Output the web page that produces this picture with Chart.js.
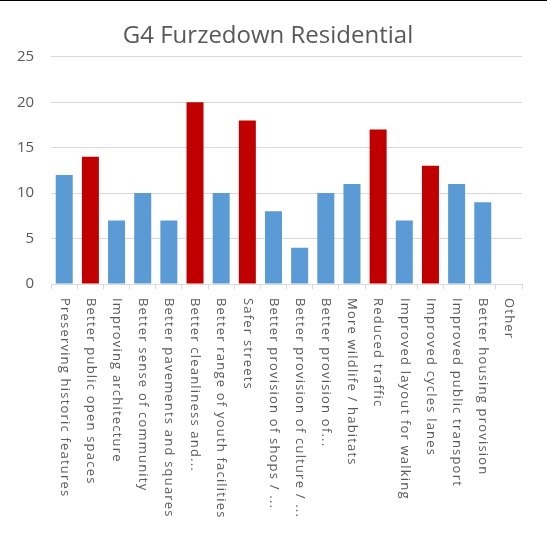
<!DOCTYPE html>
<html>
<head>
<meta charset="utf-8">
<script src="https://cdn.jsdelivr.net/npm/chart.js@4/dist/chart.umd.min.js"></script>
<style>
  html, body { margin: 0; padding: 0; background: #fff; }
  #wrap { width: 547px; height: 540px; border-top: 1px solid #000; position: relative; }
</style>
</head>
<body>
<div id="wrap"><canvas id="chart"></canvas></div>
<script>
// survey answers, G4 Furzedown Residential
const categories = [
    'Preserving historic features',
    'Better public open spaces',
    'Improving architecture',
    'Better sense of community',
    'Better pavements and squares',
    'Better cleanliness and...',
    'Better range of youth facilities',
    'Safer streets',
    'Better provision of shops / ...',
    'Better provision of culture / ...',
    'Better provision of...',
    'More wildlife / habitats',
    'Reduced traffic',
    'Improved layout for walking',
    'Improved cycles lanes',
    'Improved public transport',
    'Better housing provision',
    'Other'
];
const votes = [12, 14, 7, 10, 7, 20, 10, 18, 8, 4, 10, 11, 17, 7, 13, 11, 9, 0];
// top priorities are shown in red
const highlighted = [1, 5, 7, 12, 14];
const yTicks = [0, 5, 10, 15, 20, 25];

const BLUE = '#5b9bd5', RED = '#c00000', TEXT = '#595959', GRID = '#d9d9d9';

let barColors = votes.map((v, i) => highlighted.includes(i) ? RED : BLUE);

// category names run downwards, top to bottom
const downLabels = {
    id: 'downLabels',
    afterLayout(chart) {
        // centre the title over the plot rather than the whole canvas
        chart.titleBlock.left += 7;
        chart.titleBlock.right += 7;
    },
    afterDraw(chart) {
        let ctx = chart.ctx, x = chart.scales.x, top = chart.chartArea.bottom + 14;
        ctx.save();
        ctx.font = '13px "Open Sans"';
        ctx.letterSpacing = '1.2px';
        ctx.fillStyle = TEXT;
        ctx.textAlign = 'left';
        ctx.textBaseline = 'middle';
        chart.data.labels.forEach((label, i) => {
            ctx.save();
            ctx.translate(x.getPixelForValue(i), top);
            ctx.rotate(Math.PI / 2);
            ctx.fillText(label, 0, 0);
            ctx.restore();
        });
        ctx.restore();
    }
};

new Chart(document.getElementById('chart'), {
    type: 'bar',
    data: {
        labels: categories,
        datasets: [{
            data: votes,
            backgroundColor: barColors,
            categoryPercentage: 1,
            barPercentage: 0.65
        }]
    },
    options: {
        responsive: true,
        maintainAspectRatio: false,
        animation: false,
        layout: { padding: { top: 21, left: 0, right: 25, bottom: 252 } },
        plugins: {
            legend: { display: false },
            tooltip: { enabled: false },
            title: {
                display: true,
                text: 'G4 Furzedown Residential',
                color: TEXT,
                font: { family: '"Open Sans"', size: 24, weight: 'normal' },
                padding: { top: 0, bottom: 6 }
            }
        },
        scales: {
            x: {
                grid: { display: true, drawOnChartArea: false, offset: true, color: GRID, tickLength: 5 },
                border: { color: GRID },
                ticks: { display: false }
            },
            y: {
                min: 0,
                max: 25,
                afterBuildTicks: scale => { scale.ticks = yTicks.map(v => ({ value: v })); },
                grid: { color: GRID, drawTicks: false },
                border: { display: false },
                ticks: { color: TEXT, padding: 17, font: { family: '"Open Sans"', size: 15 } }
            }
        }
    },
    plugins: [downLabels]
});
</script>
</body>
</html>
